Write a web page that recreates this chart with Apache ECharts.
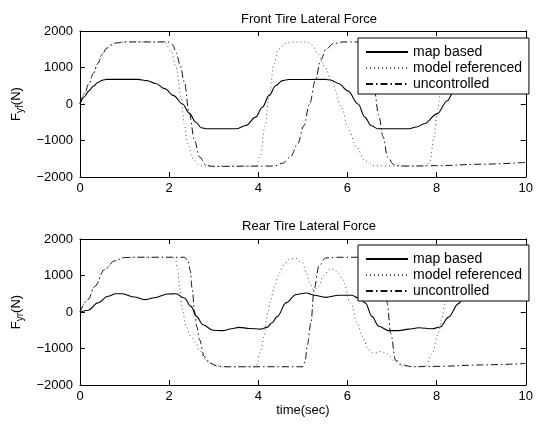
<!DOCTYPE html>
<html><head><meta charset="utf-8">
<script src="https://cdn.jsdelivr.net/npm/echarts@6/dist/echarts.min.js"></script>
<style>html,body{margin:0;padding:0;background:#fff}#c{width:536px;height:427px}</style>
</head><body><div id="c"></div>
<script>
// ---- Data ----
var seriesNames = ['map based', 'model referenced', 'uncontrolled'];
var xTicks = [0, 2, 4, 6, 8, 10];
var yTicks = [-2000, -1000, 0, 1000, 2000];

// Front tire lateral force
var tFrontMap = [0,0.1,0.2,0.3,0.4,0.5,0.6,1.3,1.5,1.7,1.9,2.1,2.3,2.45,2.6,2.72,2.85,3.5,3.72,3.94,4.09,4.24,4.39,4.54,4.68,5.5,5.64,5.8,6.01,6.24,6.39,6.53,6.68,7.35,7.55,7.72,8.01,8.24,8.39,8.6,8.8,9.5,9.7,9.9,10];
var yFrontMap = [0,200,360,490,590,650,675,675,640,560,420,230,0,-250,-500,-650,-680,-680,-590,-360,-90,230,500,640,670,675,650,560,360,0,-360,-590,-680,-680,-630,-540,-270,90,360,600,675,675,640,450,320];

var tFrontModel = [0,0.1,0.2,0.3,0.4,0.5,0.6,0.7,0.8,1.0,1.9,2.04,2.16,2.27,2.34,2.42,2.53,2.68,2.85,3.95,4.05,4.15,4.25,4.35,4.45,4.6,4.75,5.1,5.2,5.35,5.5,5.64,5.87,6.01,6.2,6.39,6.61,6.8,7.75,7.85,7.94,8.01,8.09,8.2,8.3,8.45,8.6,9.8,10];
var yFrontModel = [0,280,560,840,1110,1370,1530,1620,1670,1700,1700,1450,1000,180,-550,-1090,-1500,-1680,-1700,-1700,-1400,-600,300,1100,1500,1660,1700,1700,1620,1360,1000,640,-90,-640,-1180,-1550,-1690,-1700,-1700,-1580,-910,-270,360,1000,1400,1650,1700,1700,1650];

var tFrontUnc = [0,0.1,0.2,0.3,0.4,0.5,0.6,0.7,0.8,1.0,2.0,2.08,2.16,2.25,2.34,2.45,2.57,2.68,2.83,2.97,4.35,4.55,4.72,4.88,5.02,5.15,5.28,5.4,5.52,5.68,5.9,6.3,6.4,6.5,6.6,6.7,6.8,6.9,7.03,7.2,7.4,8,9,10];
var yFrontUnc = [0,280,560,840,1110,1370,1530,1620,1670,1700,1700,1620,1400,1050,600,-250,-1000,-1450,-1680,-1710,-1700,-1620,-1450,-1100,-600,0,650,1200,1500,1650,1700,1700,1620,1350,400,-300,-900,-1450,-1650,-1700,-1700,-1690,-1650,-1600];

// Rear tire lateral force
var tRearMap = [0,0.18,0.4,0.63,0.8,0.95,1.22,1.45,1.67,1.97,2.15,2.34,2.49,2.61,2.76,2.98,3.2,3.4,3.57,3.8,4.05,4.2,4.3,4.43,4.62,4.85,5.07,5.25,5.51,5.81,6.1,6.25,6.4,6.55,6.7,6.93,7.15,7.37,7.6,7.9,8.08,8.27,8.49,8.64,8.9,9.2,9.5,9.8,10];
var yRearMap = [0,50,250,430,500,500,410,340,390,495,500,385,155,-120,-350,-500,-510,-460,-420,-450,-470,-420,-300,-120,250,480,520,460,400,460,460,380,250,-120,-390,-510,-510,-470,-430,-460,-410,-140,230,500,500,420,480,500,470];

var tRearModel = [0,0.18,0.33,0.55,0.77,1.0,1.2,2.1,2.15,2.19,2.23,2.3,2.38,2.49,2.6,2.68,2.83,3.05,3.2,3.95,4.06,4.13,4.21,4.28,4.36,4.47,4.58,4.69,4.84,4.99,5.07,5.15,5.25,5.35,5.47,5.6,5.7,5.8,5.89,6.07,6.22,6.33,6.48,6.6,6.75,6.9,7.05,7.25,7.4,7.75,7.9,8.04,8.12,8.19,8.3,8.45,8.6,8.8,10];
var yRearModel = [0,340,700,1160,1400,1490,1500,1500,1400,1160,700,60,-400,-670,-850,-1050,-1320,-1450,-1500,-1500,-1040,-670,-30,340,700,1070,1300,1440,1470,1350,1100,800,600,700,1000,1170,1180,1050,890,250,-300,-670,-1040,-1130,-1080,-1150,-1350,-1480,-1500,-1480,-1140,-590,-140,230,800,1250,1450,1500,1500];

var tRearUnc = [0,0.18,0.33,0.55,0.77,1.0,1.2,2.34,2.42,2.47,2.52,2.57,2.62,2.68,2.79,2.9,3.1,3.3,5.0,5.05,5.1,5.18,5.25,5.36,5.51,5.73,6.75,6.82,6.89,6.97,7.08,7.23,7.45,8,9,10];
var yRearUnc = [0,340,700,1160,1400,1490,1500,1500,1420,1150,600,0,-400,-760,-1220,-1400,-1490,-1500,-1500,-1350,-900,-300,610,1260,1480,1500,1500,1300,250,-580,-1320,-1450,-1500,-1490,-1450,-1410];

function pairs(t, y) { return t.map(function (v, i) { return [v, y[i]]; }); }

var FONT = '"Liberation Sans", Arial, Helvetica, sans-serif';
var styles = [
  { color: '#000', width: 1.1, type: 'solid' },
  { color: '#555', width: 1, type: [1, 3] },
  { color: '#111', width: 1, type: [7, 3, 1.5, 3] }
];

var chart = echarts.init(document.getElementById('c'), null, { renderer: 'canvas' });

function xAx(grid, pos, labels, name) {
  return {
    type: 'value', gridIndex: grid, position: pos, min: 0, max: 10, interval: 2,
    axisLine: { show: true, onZero: false, lineStyle: { color: '#000', width: 1 } },
    axisTick: { show: true, inside: true, length: 5, lineStyle: { color: '#000' } },
    axisLabel: { show: labels, margin: 5, fontSize: 13, color: '#000', fontFamily: FONT },
    splitLine: { show: false },
    name: name || '', nameLocation: 'middle', nameGap: 16,
    nameTextStyle: { fontSize: 13, color: '#000', fontFamily: FONT }
  };
}
function yAx(grid, pos, labels, name) {
  return {
    type: 'value', gridIndex: grid, position: pos, min: -2000, max: 2000, interval: 1000,
    axisLine: { show: true, onZero: false, lineStyle: { color: '#000', width: 1 } },
    axisTick: { show: true, inside: true, length: 5, lineStyle: { color: '#000' } },
    axisLabel: { show: labels, margin: 7, fontSize: 13, color: '#000', fontFamily: FONT,
      formatter: function (v) { return String(v).replace('-', '\u2212'); } },
    splitLine: { show: false },
    name: name || '', nameLocation: 'middle', nameGap: 39, nameRotate: 90,
    nameTextStyle: {
      color: '#000', fontFamily: FONT,
      rich: {
        a: { fontSize: 13, color: '#000', fontFamily: FONT, lineHeight: 18, verticalAlign: 'middle' },
        b: { fontSize: 10, color: '#000', fontFamily: FONT, lineHeight: 10, verticalAlign: 'bottom' }
      }
    }
  };
}

var series = [];
var dataSets = [
  [pairs(tFrontMap, yFrontMap), pairs(tFrontModel, yFrontModel), pairs(tFrontUnc, yFrontUnc)],
  [pairs(tRearMap, yRearMap), pairs(tRearModel, yRearModel), pairs(tRearUnc, yRearUnc)]
];
for (var g = 0; g < 2; g++) {
  for (var s = 0; s < 3; s++) {
    series.push({
      name: seriesNames[s], type: 'line', xAxisIndex: g * 2, yAxisIndex: g * 2,
      data: dataSets[g][s], symbol: 'none', showSymbol: false,
      smooth: 0.35, smoothMonotone: 'x', animation: false,
      lineStyle: { color: styles[s].color, width: styles[s].width, type: styles[s].type },
      itemStyle: { color: styles[s].color }, z: 3 - s
    });
  }
}

function legendAt(top) {
  return {
    data: seriesNames, orient: 'vertical', left: 358, top: top,
    itemWidth: 42, itemHeight: 14, itemGap: 2, padding: [7, 7, 3, 7],
    backgroundColor: '#fff', borderColor: '#000', borderWidth: 1, borderRadius: 0,
    selectedMode: false,
    itemStyle: { opacity: 0 },
    textStyle: { fontSize: 14, color: '#000', fontFamily: FONT }
  };
}

chart.setOption({
  animation: false,
  backgroundColor: '#fff',
  textStyle: { fontFamily: FONT },
  title: [
    { text: 'Front Tire Lateral Force', left: 304, top: 8, textAlign: 'center',
      textStyle: { fontSize: 13, fontWeight: 'normal', color: '#000', fontFamily: FONT } },
    { text: 'Rear Tire Lateral Force', left: 304, top: 215, textAlign: 'center',
      textStyle: { fontSize: 13, fontWeight: 'normal', color: '#000', fontFamily: FONT } }
  ],
  grid: [
    { left: 80, width: 449, top: 31, height: 146 },
    { left: 80, width: 449, top: 239, height: 146 }
  ],
  legend: [legendAt(38), legendAt(245)],
  xAxis: [xAx(0, 'bottom', true), xAx(0, 'top', false), xAx(1, 'bottom', true, 'time(sec)'), xAx(1, 'top', false)],
  yAxis: [yAx(0, 'left', true, '{a|F}{b|yf}{a|(N)}'), yAx(0, 'right', false), yAx(1, 'left', true, '{a|F}{b|yr}{a|(N)}'), yAx(1, 'right', false)],
  series: series
});
</script>
</body></html>
